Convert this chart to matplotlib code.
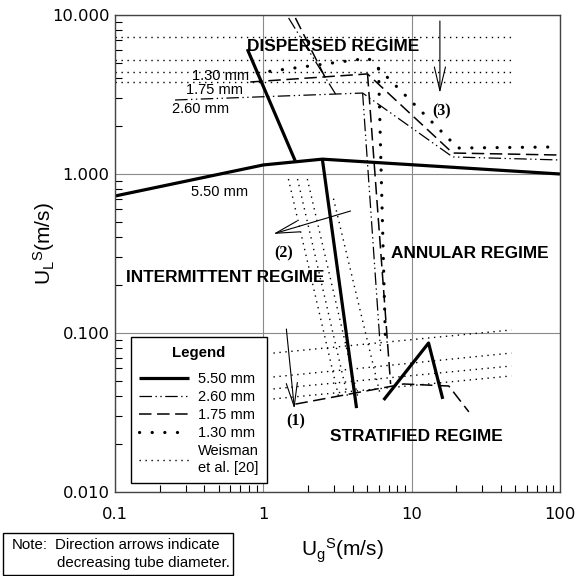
import matplotlib
matplotlib.use('Agg')
import matplotlib.pyplot as plt
from matplotlib.ticker import LogLocator, NullFormatter
from matplotlib.lines import Line2D
from matplotlib.patches import Rectangle

plt.rcParams['font.family'] = ['Liberation Sans', 'DejaVu Sans']
plt.rcParams['lines.scale_dashes'] = False
plt.rcParams['mathtext.fontset'] = 'custom'
plt.rcParams['mathtext.rm'] = 'Liberation Sans'
plt.rcParams['mathtext.it'] = 'Liberation Sans:italic'

# ---------------- data ----------------
# 5.50 mm tube
d550_main_x = [0.1, 1.0, 2.5, 100]
d550_main_y = [0.727, 1.14, 1.24, 1.0]
d550_disp_x = [0.78, 1.64]
d550_disp_y = [6.1, 1.21]
d550_ann_x = [2.5, 4.25]
d550_ann_y = [1.24, 0.0337]
d550_strat_x = [6.47, 13.0, 16.2]
d550_strat_y = [0.0379, 0.0865, 0.0385]

# 2.60 mm tube
d260_top_x = [1.48, 3.07]
d260_top_y = [9.58, 3.18]
d260_disp_x = [0.254, 4.67, 18.9, 100]
d260_disp_y = [2.92, 3.23, 1.28, 1.225]
d260_ann_x = [4.67, 6.17]
d260_ann_y = [3.23, 0.077]

# 1.75 mm tube
d175_top_x = [1.645, 2.62]
d175_top_y = [9.58, 4.02]
d175_disp_x = [0.817, 5.04, 18.9, 100]
d175_disp_y = [3.79, 4.26, 1.355, 1.316]
d175_ann_x = [5.04, 7.21]
d175_ann_y = [4.26, 0.0478]
d175_strat_x = [1.645, 8.83, 17.8, 24.3]
d175_strat_y = [0.0357, 0.0478, 0.0464, 0.0319]

# 1.30 mm tube
d130_disp_x = [0.91, 5.1, 20.5, 100]
d130_disp_y = [4.32, 5.35, 1.457, 1.48]
d130_ann_x = [5.98, 6.67]
d130_ann_y = [4.58, 0.083]

# Weisman et al. [20]
weis_disp_x = [0.1, 48]
weis_disp_y = [7.27, 5.21, 4.38, 3.79]
weis_strat_x = [1.17, 47]
weis_strat_y0 = [0.0748, 0.0529, 0.0445, 0.0385]
weis_strat_y1 = [0.1045, 0.0748, 0.062, 0.0537]
weis_ann_x0 = [1.476, 1.70, 1.98, 2.97]
weis_ann_y0 = [0.93, 0.93, 0.93, 0.70]
weis_ann_x1 = [3.21, 3.69, 4.32, 6.17]
weis_ann_y1 = [0.0402, 0.0402, 0.0402, 0.0402]

legend_labels = ['5.50 mm', '2.60 mm', '1.75 mm', '1.30 mm', 'Weisman\net al. [20]']
xtick_vals = [0.1, 1, 10, 100]
xtick_labels = ['0.1', '1', '10', '100']
ytick_vals = [0.01, 0.1, 1, 10]
ytick_labels = ['0.010', '0.100', '1.000', '10.000']

# ---------------- styles ----------------
st550 = dict(color='black', lw=2.3, solid_capstyle='butt')
st260 = dict(color='black', lw=0.9, dashes=(9, 2.5, 1, 2.5, 1, 2.5))
st175 = dict(color='black', lw=1.1, dashes=(9, 4))
st130 = dict(color='black', lw=2.3, dashes=(0.1, 9), dash_capstyle='round')
stw = dict(color='black', lw=1.0, dashes=(1.0, 3.3), dash_capstyle='butt')

fig = plt.figure(figsize=(5.82, 5.76), dpi=100)
ax = fig.add_axes([115/582, 1-492/576, 445/582, 477/576])
ax.set_xscale('log')
ax.set_yscale('log')
ax.set_xlim(0.1, 100)
ax.set_ylim(0.01, 10)

# Weisman lines
for yv in weis_disp_y:
    ax.plot(weis_disp_x, [yv, yv], **stw)
for y0, y1 in zip(weis_strat_y0, weis_strat_y1):
    ax.plot(weis_strat_x, [y0, y1], **stw)
for x0, y0, x1, y1 in zip(weis_ann_x0, weis_ann_y0, weis_ann_x1, weis_ann_y1):
    ax.plot([x0, x1], [y0, y1], **stw)

# 1.30 mm
ax.plot(d130_disp_x, d130_disp_y, **st130)
ax.plot(d130_ann_x, d130_ann_y, **st130)
# 1.75 mm
ax.plot(d175_top_x, d175_top_y, **st175)
ax.plot(d175_disp_x, d175_disp_y, **st175)
ax.plot(d175_ann_x, d175_ann_y, **st175)
ax.plot(d175_strat_x, d175_strat_y, **st175)
# 2.60 mm
ax.plot(d260_top_x, d260_top_y, **st260)
ax.plot(d260_disp_x, d260_disp_y, **st260)
ax.plot(d260_ann_x, d260_ann_y, **st260)
# 5.50 mm
ax.plot(d550_main_x, d550_main_y, **st550)
ax.plot(d550_disp_x, d550_disp_y, **st550)
ax.plot(d550_ann_x, d550_ann_y, **st550)
ax.plot(d550_strat_x, d550_strat_y, **st550)

# grid / ticks
ax.grid(which='major', color='#8a8a8a', lw=0.8)
ax.set_axisbelow(True)
ax.set_xticks(xtick_vals)
ax.set_xticklabels(xtick_labels)
ax.set_yticks(ytick_vals)
ax.set_yticklabels(ytick_labels)
ax.xaxis.set_minor_locator(LogLocator(base=10, subs=range(2, 10)))
ax.yaxis.set_minor_locator(LogLocator(base=10, subs=range(2, 10)))
ax.xaxis.set_minor_formatter(NullFormatter())
ax.yaxis.set_minor_formatter(NullFormatter())
ax.tick_params(which='major', length=0, labelsize=11.8)
ax.tick_params(axis='x', which='major', pad=11)
ax.tick_params(axis='y', which='major', pad=4)
ax.tick_params(which='minor', direction='in', length=5, width=0.8,
               top=False, right=False)
for lab in ax.get_xticklabels() + ax.get_yticklabels():
    lab.set_fontfamily('DejaVu Sans')
for sp in ax.spines.values():
    sp.set_color('#444444')
    sp.set_linewidth(1.0)

ax.set_xlabel(r'$\mathregular{U_g{}^S(m/s)}$', fontsize=15)
ax.xaxis.set_label_coords(0.51, -0.094)
ax.set_ylabel(r'$\mathregular{U_L{}^S(m/s)}$', fontsize=15)
ax.yaxis.set_label_coords(-0.13, 0.52)

# regime labels
bold = dict(fontsize=12.4, fontweight='bold', ha='center', va='center')
ax.text(2.95, 6.38, 'DISPERSED REGIME', **bold)
ax.text(24.7, 0.318, 'ANNULAR REGIME', **bold)
ax.text(0.554, 0.222, 'INTERMITTENT REGIME', **bold)
ax.text(10.8, 0.0222, 'STRATIFIED REGIME', **bold)

# diameter labels
ax.text(0.512, 4.13, '1.30 mm', fontsize=10.5, ha='center', va='center')
ax.text(0.467, 3.38, '1.75 mm', fontsize=10.5, ha='center', va='center')
ax.text(0.375, 2.56, '2.60 mm', fontsize=10.5, ha='center', va='center')
ax.text(0.504, 0.77, '5.50 mm', fontsize=10.5, ha='center', va='center')

# direction arrows
aprops = dict(arrowstyle='->,head_length=0.85,head_width=0.2', lw=0.8,
              color='black', mutation_scale=20, shrinkA=0, shrinkB=0)
ax.annotate('', xy=(1.62, 0.0333), xytext=(1.43, 0.106), arrowprops=aprops)
ax.annotate('', xy=(1.168, 0.42), xytext=(3.87, 0.585), arrowprops=aprops)
ax.annotate('', xy=(15.5, 3.23), xytext=(15.5, 9.17), arrowprops=aprops)
serif = dict(fontsize=11.5, fontweight='bold', family='Liberation Serif',
             ha='center', va='center')
ax.text(1.645, 0.028, '(1)', **serif)
ax.text(1.365, 0.318, '(2)', **serif)
ax.text(15.95, 2.49, '(3)', **serif)

# legend
handles = [Line2D([], [], **st550), Line2D([], [], **st260),
           Line2D([], [], **st175), Line2D([], [], **st130),
           Line2D([], [], **stw)]
leg = ax.legend(handles, legend_labels, loc='lower left',
                bbox_to_anchor=(0.036, 0.019), fontsize=10.5,
                title='Legend', title_fontproperties={'weight': 'bold', 'size': 10.8},
                frameon=True, fancybox=False, framealpha=1, edgecolor='black',
                borderpad=0.5, labelspacing=0.28, handlelength=3.4,
                handletextpad=0.6, borderaxespad=0)
leg.get_frame().set_linewidth(1.0)
leg._legend_box.sep = 9
leg._legend_box.pad = 6

# note box
fig.patches.append(Rectangle((3/582, 1-575/576), 230/582, 42/576,
                             transform=fig.transFigure, facecolor='white',
                             edgecolor='black', lw=1.0))
fig.text(12/582, 1-545/576, 'Note:', fontsize=10.8, va='center')
fig.text(55/582, 1-545/576, 'Direction arrows indicate', fontsize=10.8, va='center')
fig.text(57/582, 1-563/576, 'decreasing tube diameter.', fontsize=10.8, va='center')

fig.savefig('out.png', dpi=100)
